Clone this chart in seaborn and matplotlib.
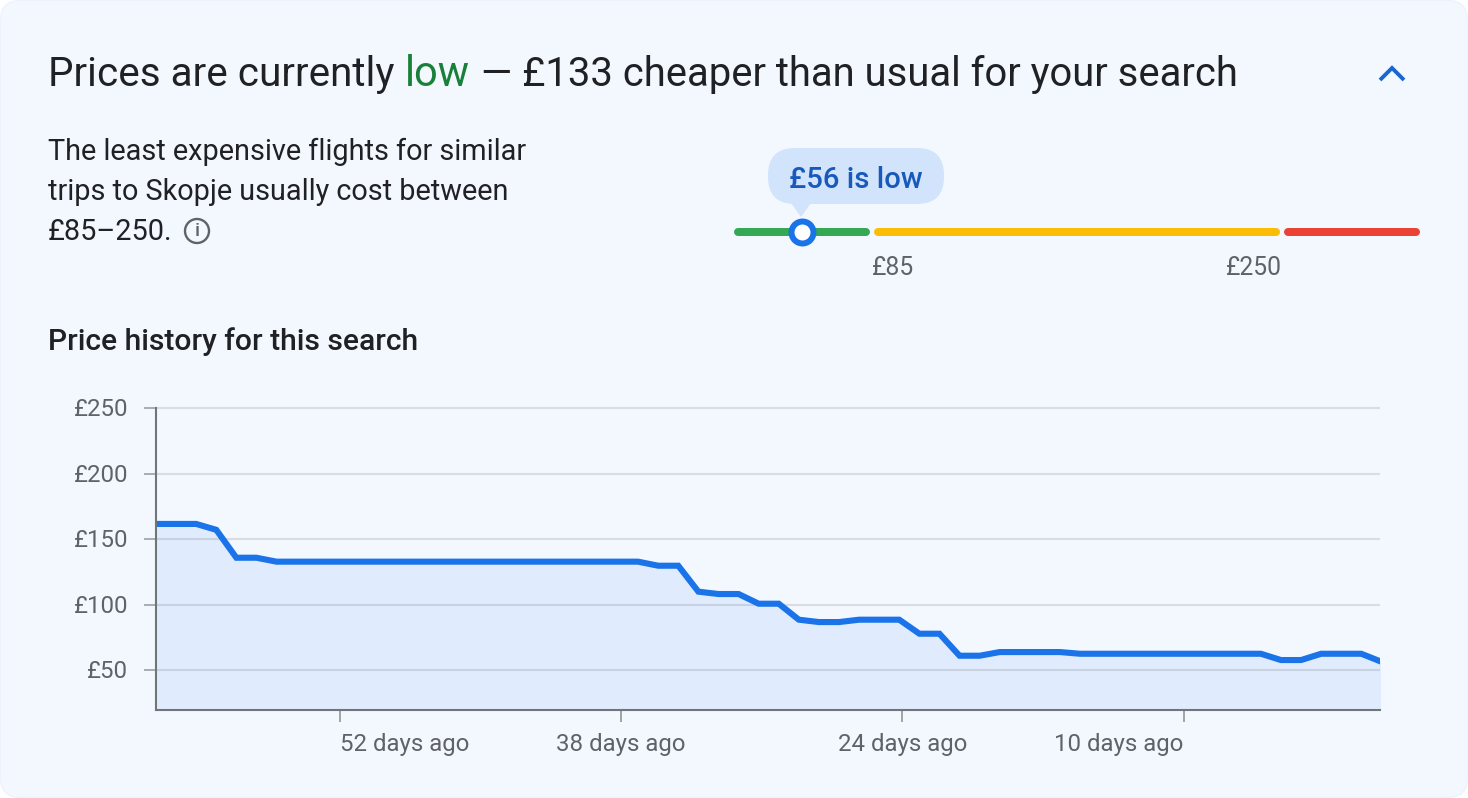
import numpy as np
import pandas as pd
import matplotlib
matplotlib.use("Agg")
import matplotlib.pyplot as plt
from matplotlib.patches import FancyBboxPatch, Polygon, Circle
from matplotlib.transforms import ScaledTranslation
import seaborn as sns

# ---- data ----
prices = [161.5, 161.5, 161.5, 157, 135.7, 135.7, 132.7, 132.7, 132.7, 132.7,
          132.7, 132.7, 132.7, 132.7, 132.7, 132.7, 132.7, 132.7, 132.7, 132.7,
          132.7, 132.7, 132.7, 132.7, 132.7, 129.6, 129.6, 109.8, 108, 108,
          100.6, 100.6, 88.4, 86.6, 86.6, 88.4, 88.4, 88.4, 77.7, 77.7,
          60.9, 60.9, 63.7, 63.7, 63.7, 63.7, 62.4, 62.4, 62.4, 62.4,
          62.4, 62.4, 62.4, 62.4, 62.4, 62.4, 57.6, 57.6, 62.4, 62.4,
          62.4, 56.3]
first_day = 61.15
y_ticks = [50, 100, 150, 200, 250]
y_labels = ["£50", "£100", "£150", "£200", "£250"]
x_ticks = [52, 38, 24, 10]
x_labels = ["52 days ago", "38 days ago", "24 days ago", "10 days ago"]
x_aligns = ["left", "center", "center", "right"]
current_price = 56
range_low = 85
range_high = 250
slider_min = 29.5
slider_max = 305.5
slider_colors = ["#34a853", "#fbbc04", "#ea4335"]

BG = "#f3f8ff"
DARK = "#202124"
GREY = "#5f6368"
BLUE = "#1a73e8"
W, H = 1468, 798

sns.set_theme(style="white")
plt.rcParams["font.family"] = ["Roboto", "DejaVu Sans"]

fig = plt.figure(figsize=(W / 100, H / 100), dpi=100, facecolor="white")


def axes_px(left, top, right, bottom, **kw):
    return fig.add_axes([left / W, 1 - bottom / H, (right - left) / W, (bottom - top) / H], **kw)


# ---- card / text layer (pixel coordinates) ----
bg = fig.add_axes([0, 0, 1, 1], zorder=0)
bg.set_xlim(0, W)
bg.set_ylim(H, 0)
bg.axis("off")
bg.add_patch(FancyBboxPatch((0.5, 0.5), W - 1, H - 1, boxstyle="round,pad=0,rounding_size=20",
                            fc=BG, ec="#edf3fd", lw=1))

bg.text(48, 86, "Prices are currently", fontsize=29.1, color=DARK, va="baseline")
bg.text(405, 86, "low", fontsize=30, color="#188038", va="baseline")
bg.text(481, 86, "— £133 cheaper than usual for your search", fontsize=28.85, color=DARK, va="baseline")

for y, line in zip([160, 200, 240],
                   ["The least expensive flights for similar",
                    "trips to Skopje usually cost between",
                    "£85–250."]):
    bg.text(48, y, line, fontsize=20.8, color=DARK, va="baseline")

bg.add_patch(Circle((197, 231), 12, fc="none", ec=GREY, lw=1.7))
bg.text(197, 231.5, "i", fontsize=14, color=GREY, ha="center", va="center", weight="medium")

bg.plot([1380, 1392, 1404], [80, 68, 80], color="#1a66d0", lw=2.8, solid_joinstyle="miter",
        solid_capstyle="butt")

bg.text(48, 350, "Price history for this search", fontsize=21.6, color=DARK, weight="medium", va="baseline")

# ---- slider ----
sl = axes_px(734, 216, 1420, 248, zorder=2)
sl.set_xlim(slider_min, slider_max)
sl.set_ylim(-1, 1)
sl.axis("off")
unit = (slider_max - slider_min) / (1420 - 734)
edges = [slider_min, range_low, range_high, slider_max]
for i, col in enumerate(slider_colors):
    lo = edges[i] + (4 if i == 0 else 6) * unit
    hi = edges[i + 1] - (4 if i == 2 else 6) * unit
    sl.plot([lo, hi], [0, 0], color=col, lw=5.76, solid_capstyle="round")
sl.plot([current_price], [0], "o", ms=15.8, mfc="white", mec=BLUE, mew=4.3, clip_on=False, zorder=5,
        transform=sl.transData + ScaledTranslation(2 / 100, 0, fig.dpi_scale_trans))

bg.add_patch(Polygon([[791, 203], [811, 203], [801, 217]], fc="#d2e3fc", ec="none"))
bg.add_patch(FancyBboxPatch((768, 148), 176, 56, boxstyle="round,pad=0,rounding_size=27",
                            fc="#d2e3fc", ec="none"))
bg.text(856, 188, "£56 is low", fontsize=21.1, color="#185abc", weight="medium", ha="center", va="baseline")
bg.text(872, 275, "£85", fontsize=17.8, color=GREY, ha="left", va="baseline")
bg.text(1282, 275, "£250", fontsize=17.8, color=GREY, ha="right", va="baseline")

# ---- price history chart ----
ax = axes_px(156, 408, 1380, 710, zorder=1)
ax.patch.set_alpha(0)
df = pd.DataFrame({"days_ago": first_day - np.arange(len(prices)), "price": prices})
ax.fill_between(df["days_ago"], df["price"], 0, color=BLUE, alpha=0.085, lw=0, zorder=3)
sns.lineplot(data=df, x="days_ago", y="price", ax=ax, color=BLUE, lw=4.4, zorder=4,
             errorbar=None, solid_joinstyle="miter", solid_capstyle="butt")
ax.set_xlim(first_day, first_day - 60.93)
ax.set_ylim(19.47, 250)
ax.set_xlabel("")
ax.set_ylabel("")

ax.set_yticks(y_ticks, y_labels)
ax.set_xticks(x_ticks, x_labels)
for lab, a in zip(ax.get_xticklabels(), x_aligns):
    lab.set_ha(a)
ax.grid(axis="y", color="#dadce0", lw=1.5, solid_capstyle="butt")
ax.grid(axis="x", visible=False)
ax.set_axisbelow(True)
for gl in ax.get_ygridlines():
    gl.set_clip_on(False)
ax.tick_params(axis="y", length=8.6, width=1.4, color="#a8abb0", labelsize=17.3, labelcolor=GREY, pad=11.5, left=True)
ax.tick_params(axis="x", length=8.6, width=1.4, color="#a0a3a8", labelsize=17.3, labelcolor=GREY, pad=8.3, bottom=True)
for lab in ax.get_yticklabels():
    lab.set_transform(lab.get_transform() + ScaledTranslation(0, 1 / 100, fig.dpi_scale_trans))
for s in ["top", "right"]:
    ax.spines[s].set_visible(False)
for s in ["left", "bottom"]:
    ax.spines[s].set_color("#70757a")
    ax.spines[s].set_linewidth(1.5)
    ax.spines[s].set_zorder(6)

fig.savefig("out.png", dpi=100, facecolor="white")
